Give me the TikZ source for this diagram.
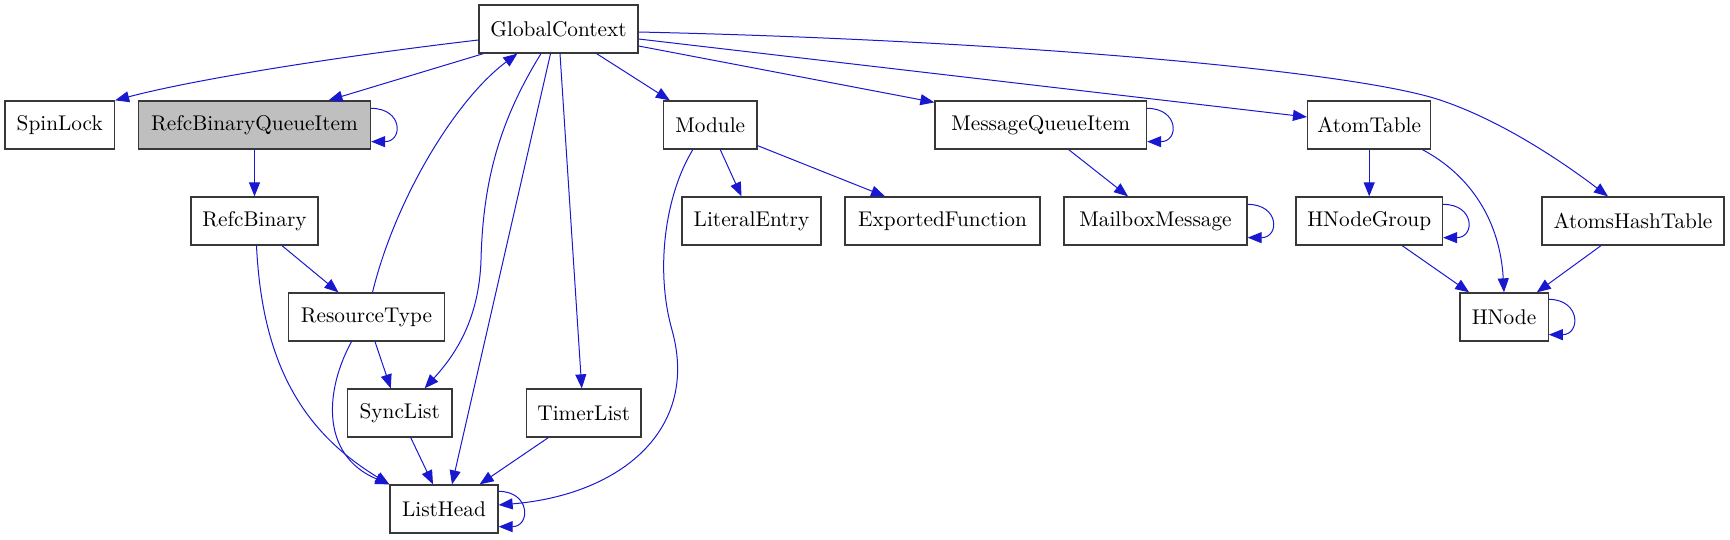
\documentclass[tikz,border=0pt]{standalone}
\usepackage{fontspec}
\setmainfont{lmroman10-regular.otf}
\usetikzlibrary{arrows.meta,calc}
\definecolor{edgeblue}{RGB}{24,24,208}
\definecolor{hlgray}{RGB}{191,191,191}
\begin{document}
\begin{tikzpicture}[x=1pt,y=-1pt,
  cls/.style={draw=black!78, line width=1.3pt, minimum height=48pt, inner sep=0pt,
    font=\fontsize{21.3}{25}\selectfont, fill=white},
  dep/.style={draw=edgeblue, line width=1pt, -{Triangle[length=14pt,width=11pt]}},
  selfloop/.style={dep}]
\useasboundingbox (0,0) rectangle (1730,539);
% nodes
\node[cls, minimum width=159pt] (gc) at (558.5,29) {GlobalContext};
\node[cls, minimum width=109.5pt] (spin) at (59.75,125) {SpinLock};
\node[cls, minimum width=232pt, fill=hlgray] (rbqi) at (254.5,125) {RefcBinaryQueueItem};
\node[cls, minimum width=93.5pt] (mod) at (710.25,125) {Module};
\node[cls, minimum width=211.5pt] (mqi) at (1040.75,125) {MessageQueueItem};
\node[cls, minimum width=123.2pt] (atab) at (1369.2,125) {AtomTable};
\node[cls, minimum width=127pt] (rb) at (254.5,221) {RefcBinary};
\node[cls, minimum width=139pt] (lit) at (751.5,221) {LiteralEntry};
\node[cls, minimum width=195pt] (exf) at (942.5,221) {ExportedFunction};
\node[cls, minimum width=183pt] (mbm) at (1155.5,221) {MailboxMessage};
\node[cls, minimum width=146.5pt] (hng) at (1369.2,221) {HNodeGroup};
\node[cls, minimum width=182pt] (aht) at (1633,221) {AtomsHashTable};
\node[cls, minimum width=156pt] (rt) at (366.5,317) {ResourceType};
\node[cls, minimum width=88.3pt] (hnode) at (1504,317) {HNode};
\node[cls, minimum width=104.5pt] (sync) at (399.75,413) {SyncList};
\node[cls, minimum width=114.5pt] (timer) at (583.75,413) {TimerList};
\node[cls, minimum width=108pt] (lh) at (444,509) {ListHead};
% edges
\draw[dep] ($(gc.west)+(0,11)$) .. controls (350,55) and (200,78) .. (spin.north east);
\draw[dep] ($(gc.south west)+(5,0)$) -- ($(rbqi.north)+(74,0)$);
\draw[selfloop] ($(rbqi.north east)+(0,8)$) .. controls +(32,0) and +(32,0) .. ($(rbqi.south east)+(0,-8)$);
\draw[dep] (rbqi.south) -- (rb.north);
\draw[dep] ($(rb.south)+(27.5,0)$) -- ($(rt.north)+(-28,0)$);
\draw[dep] ($(rb.south)+(2,0)$) .. controls (262,360) and (300,430) .. (lh.north west);
\draw[dep] ($(rt.north)+(6,0)$) .. controls (395,200) and (455,100) .. ($(gc.south west)+(39,0)$);
\draw[dep] ($(rt.south)+(8.5,0)$) -- ($(sync.north)+(-9,0)$);
\draw[dep] ($(rt.south)+(-15,0)$) .. controls (325,390) and (320,455) .. (lh.north west);
\draw[dep] ($(gc.south)+(-17.5,0)$) .. controls (500,120) and (483,180) .. (481,260)
  .. controls (479,320) and (455,355) .. ($(sync.north east)+(-28,0)$);
\draw[dep] ($(gc.south)+(-8,0)$) -- ($(lh.north)+(8,0)$);
\draw[dep] ($(gc.south)+(1.5,0)$) -- ($(timer.north)+(-2,0)$);
\draw[dep] ($(timer.south)+(-35.5,0)$) -- ($(lh.north east)+(-19,0)$);
\draw[dep] ($(sync.south)+(11,0)$) -- ($(lh.north)+(-11,0)$);
\draw[selfloop] ($(lh.north east)+(0,7)$) .. controls +(32,0) and +(32,0) .. ($(lh.south east)+(0,-7)$);
\draw[dep] ($(mod.south west)+(30,0)$) .. controls (665,195) and (655,270) .. (672,330)
  .. controls (700,430) and (620,495) .. ($(lh.east)+(0,-4)$);
\draw[dep] ($(gc.south east)+(-42,0)$) -- ($(mod.north west)+(7,0)$);
\draw[dep] ($(mod.south)+(10,0)$) -- ($(lit.north)+(-10,0)$);
\draw[dep] ($(mod.south east)+(0,-4)$) -- ($(exf.north)+(-57.5,0)$);
\draw[dep] ($(gc.east)+(0,17)$) -- ($(mqi.north west)+(0,2)$);
\draw[selfloop] ($(mqi.north east)+(0,8)$) .. controls +(32,0) and +(32,0) .. ($(mqi.south east)+(0,-8)$);
\draw[dep] ($(mqi.south)+(28,0)$) -- ($(mbm.north)+(-27.5,0)$);
\draw[selfloop] ($(mbm.north east)+(0,8)$) .. controls +(32,0) and +(32,0) .. ($(mbm.south east)+(0,-8)$);
\draw[dep] ($(gc.east)+(0,10)$) -- ($(atab.west)+(0,-8)$);
\draw[dep] ($(gc.east)+(0,3)$) .. controls (1000,40) and (1350,70) .. (1440,100)
  .. controls (1500,120) and (1560,160) .. ($(aht.north)+(-25,0)$);
\draw[dep] (atab.south) -- (hng.north);
\draw[dep] ($(atab.south east)+(-9,0)$) .. controls (1470,175) and (1500,220) .. (hnode.north);
\draw[selfloop] ($(hng.north east)+(0,8)$) .. controls +(32,0) and +(32,0) .. ($(hng.south east)+(0,-8)$);
\draw[dep] ($(hng.south)+(33,0)$) -- ($(hnode.north west)+(10,0)$);
\draw[dep] ($(aht.south)+(-32,0)$) -- ($(hnode.north east)+(-12,0)$);
\draw[selfloop] ($(hnode.north east)+(0,7)$) .. controls +(32,0) and +(32,0) .. ($(hnode.south east)+(0,-7)$);
\end{tikzpicture}
\end{document}
